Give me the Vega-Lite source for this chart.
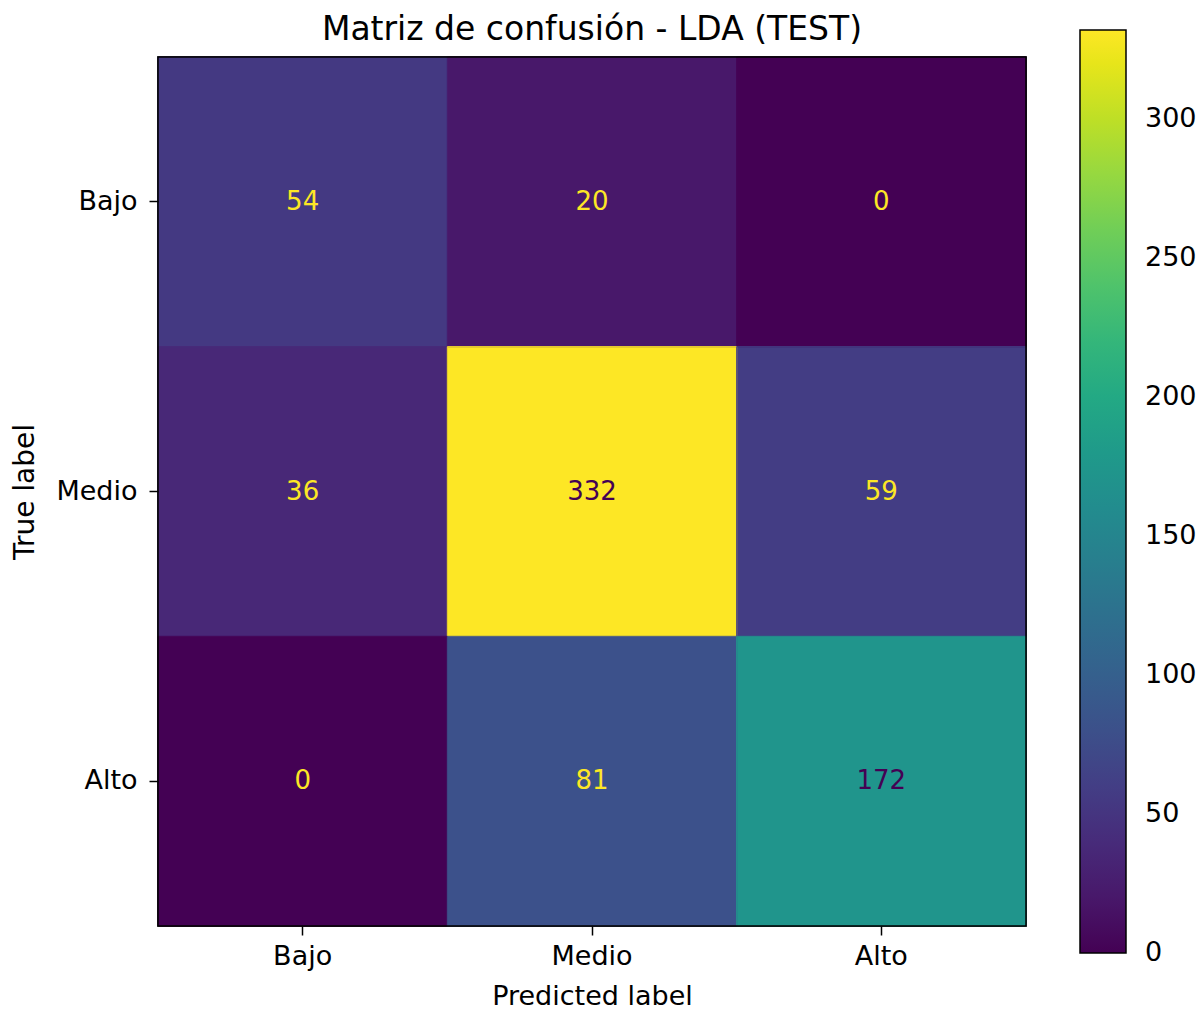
{
  "$schema": "https://vega.github.io/schema/vega-lite/v6.json",
  "autosize": "none",
  "width": 868,
  "height": 869,
  "padding": {"left": 158, "top": 57, "right": 176, "bottom": 83},
  "background": "white",
  "title": {"text": "Matriz de confusión - LDA (TEST)", "fontSize": 33, "fontWeight": "normal", "font": "DejaVu Sans", "color": "black", "anchor": "middle", "offset": 12, "dy": 29},
  "config": {
    "font": "DejaVu Sans",
    "view": {"stroke": "black", "strokeWidth": 1.5},
    "axis": {"labelFont": "DejaVu Sans", "titleFont": "DejaVu Sans", "labelFontSize": 27, "titleFontSize": 28, "titleFontWeight": "normal", "labelColor": "black", "titleColor": "black", "tickColor": "black", "tickSize": 9, "tickWidth": 1.5, "domain": false, "grid": false},
    "legend": {"labelFont": "DejaVu Sans", "labelFontSize": 27, "labelColor": "black"}
  },
  "data": {"values": [
    {"t": "Bajo", "p": "Bajo", "v": 54},
    {"t": "Bajo", "p": "Medio", "v": 20},
    {"t": "Bajo", "p": "Alto", "v": 0},
    {"t": "Medio", "p": "Bajo", "v": 36},
    {"t": "Medio", "p": "Medio", "v": 332},
    {"t": "Medio", "p": "Alto", "v": 59},
    {"t": "Alto", "p": "Bajo", "v": 0},
    {"t": "Alto", "p": "Medio", "v": 81},
    {"t": "Alto", "p": "Alto", "v": 172}
  ]},
  "encoding": {
    "x": {"field": "p", "type": "nominal", "sort": ["Bajo", "Medio", "Alto"], "title": "Predicted label", "scale": {"paddingInner": 0, "paddingOuter": 0}, "axis": {"labelAngle": 0, "labelPadding": 8, "titlePadding": 14, "titleFontSize": 27}},
    "y": {"field": "t", "type": "nominal", "sort": ["Bajo", "Medio", "Alto"], "title": "True label", "scale": {"paddingInner": 0, "paddingOuter": 0}, "axis": {"labelPadding": 12, "titlePadding": 16}}
  },
  "resolve": {"scale": {"stroke": "independent"}, "legend": {"stroke": "independent"}},
  "layer": [
    {
      "mark": {"type": "rect"},
      "encoding": {
        "color": {"field": "v", "type": "quantitative", "scale": {"scheme": "viridis", "domain": [0, 332]},
          "legend": {"orient": "none", "legendX": 922, "legendY": -27, "direction": "vertical", "gradientLength": 923, "gradientThickness": 46, "gradientStrokeColor": "black", "gradientStrokeWidth": 1.5, "title": null, "values": [0, 50, 100, 150, 200, 250, 300], "labelOffset": 19, "labelBaseline": "middle", "padding": 0,
            "encode": {"labels": {"update": {"baseline": {"value": "middle"}}}}}}
      }
    },
    {
      "mark": {"type": "rect", "fill": null, "strokeWidth": 1},
      "encoding": {
        "stroke": {"field": "v", "type": "quantitative", "scale": {"scheme": "viridis", "domain": [0, 332]}, "legend": null}
      }
    },
    {
      "mark": {"type": "text", "fontSize": 26, "font": "DejaVu Sans"},
      "encoding": {
        "text": {"field": "v", "type": "quantitative"},
        "color": {"condition": {"test": "datum.v > 166", "value": "#440154"}, "value": "#fde725"}
      }
    },
    {
      "mark": {"type": "rect", "fill": null, "stroke": "black", "strokeWidth": 1.5},
      "data": {"values": [{}]},
      "encoding": {"x": {"value": 0}, "x2": {"value": 868}, "y": {"value": 0}, "y2": {"value": 869}}
    }
  ]
}
